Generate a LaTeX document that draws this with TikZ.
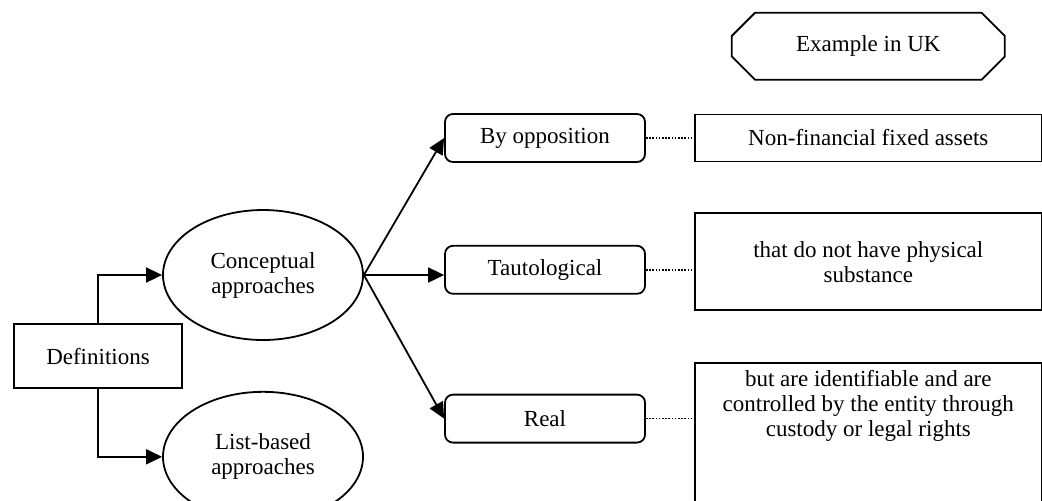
\documentclass[tikz,border=0pt]{standalone}
\usepackage{fontspec}
\setmainfont{Liberation Serif}
\usetikzlibrary{arrows.meta, shapes.geometric, shapes.misc, positioning}

\begin{document}
\begin{tikzpicture}[
    x=0.5pt, y=-0.5pt,
    every node/.style={font=\fontsize{11.5}{12.5}\selectfont},
    defbox/.style={rectangle, draw, line width=0.9pt, minimum width=84pt, minimum height=32pt, align=center},
    approach/.style={ellipse, draw, line width=0.9pt, minimum width=100pt, minimum height=65pt, align=center},
    kind/.style={rectangle, draw, rounded corners=4pt, line width=0.9pt, minimum width=100pt, minimum height=24pt, align=center},
    ukbox/.style={rectangle, draw, line width=0.9pt, minimum width=173.5pt, align=center},
    header/.style={chamfered rectangle, chamfered rectangle xsep=11pt, draw, line width=0.9pt, minimum width=136.5pt, minimum height=33.5pt},
    arrow/.style={-{Triangle[length=8pt, width=7.5pt]}, line width=0.9pt},
    link/.style={dash pattern=on 0.8pt off 0.8pt, line width=0.8pt}
]

% page of the scan
\useasboundingbox (0,0) rectangle (1042,500);
\clip (0,0) rectangle (1042,500);

% Definitions
\node[defbox] (defs) at (98,356) {Definitions};

% Approaches
\node[approach] (concept) at (263,275) {Conceptual\\approaches};
\node[approach, below=25pt of concept] (listb) {List-based\\approaches};

% Kinds of conceptual definition
\node[kind] (byopp) at (545,138) {By opposition};
\node[kind, below=41pt of byopp] (tauto) {Tautological};
\node[kind, below=49.5pt of tauto] (real) {Real};

% Example in UK
\node[ukbox, minimum height=23.5pt, right=24pt of byopp] (nonfin) {Non-financial fixed assets};
\node[ukbox, minimum height=48.5pt, below=25pt of nonfin] (physical) {that do not have physical\\substance};
\node[ukbox, minimum height=75pt, text depth=35pt, below=25.5pt of physical] (control) {but are identifiable and are\\controlled by the entity through\\custody or legal rights};
\node[header, above=16.5pt of nonfin] (example) {Example in UK};

% Connections
\draw[arrow] (defs.north) |- (concept.west);
\draw[arrow] (defs.south) |- (listb.west);
\draw[arrow] (concept.east) -- (byopp.west);
\draw[arrow] (concept.east) -- (concept.east -| tauto.west);
\draw[arrow] (concept.east) -- (real.west);

\draw[link] (byopp.east) -- (nonfin.west);
\draw[link] (tauto.east) -- (tauto.east -| physical.west);
\draw[link] (real.east) -- (real.east -| control.west);

\end{tikzpicture}
\end{document}
